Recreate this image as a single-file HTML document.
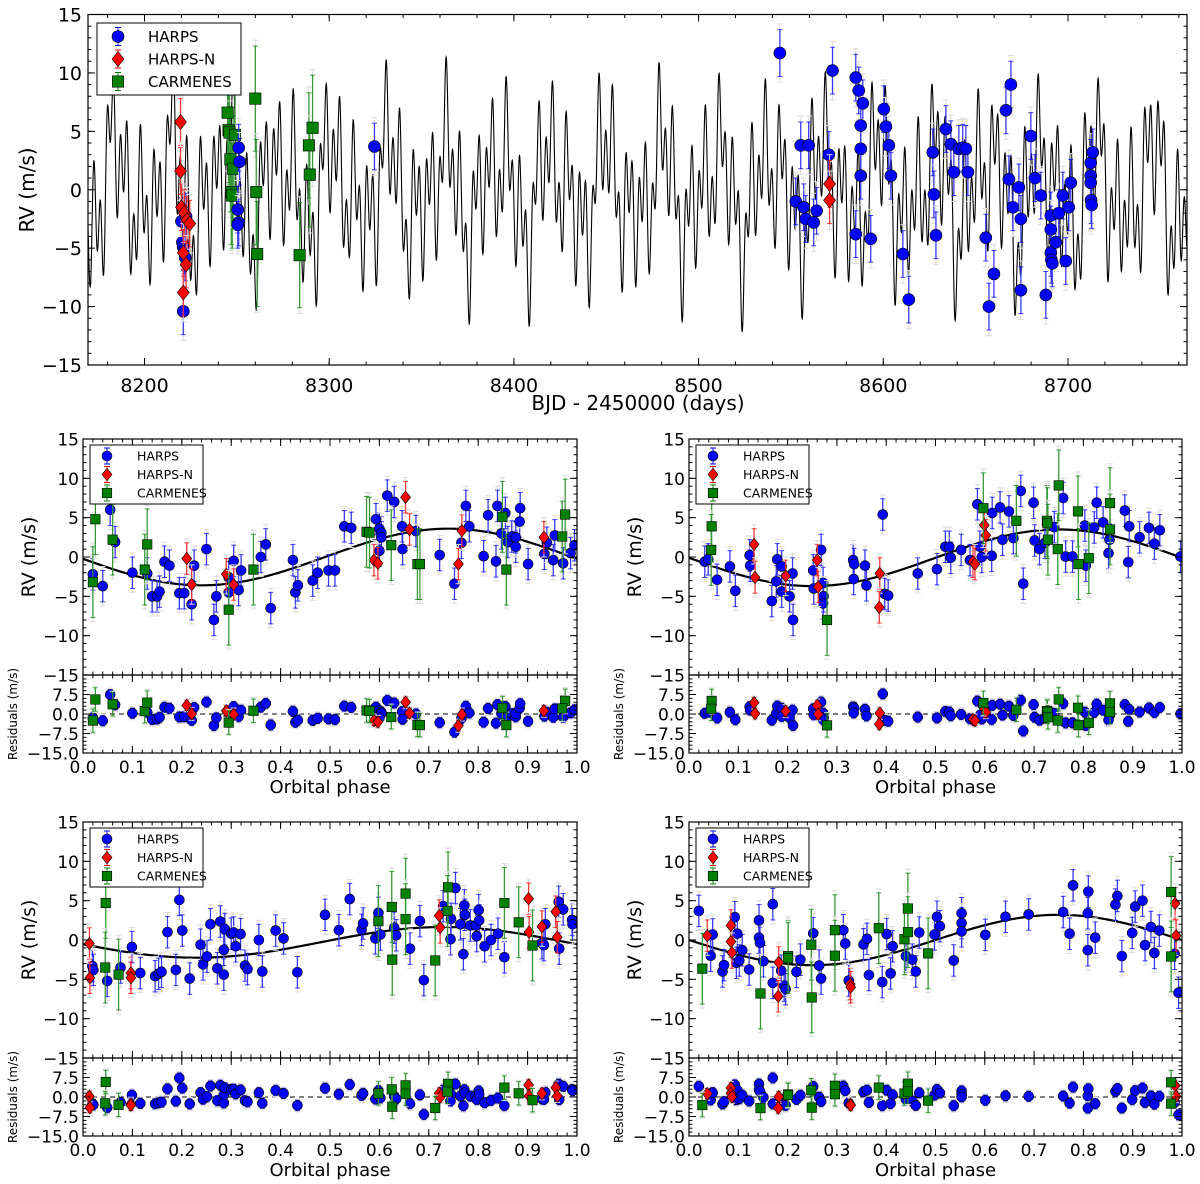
<!DOCTYPE html>
<html><head><meta charset="utf-8"><title>RV fits</title>
<style>
html,body{margin:0;padding:0;background:#fff;}
svg{display:block;font-family:"DejaVu Sans","Liberation Sans",sans-serif;}
</style></head>
<body>
<svg id="chart" width="1200" height="1184" viewBox="0 0 1200 1184" xmlns="http://www.w3.org/2000/svg"></svg>
<script>
// ---------------- DATA ----------------
const topHarpsT = [8220,8220.5,8221,8221.5,8222,8221,8222.5,8251,8251.5,8250.5,8251,8250.5,8324.5,8544,
 8552.6,8555.3,8556.9,8558,8559.6,8562.3,8563.9,8572.5,8570.5,8585.1,8586.7,8588.9,8587.8,8587.8,8587.8,8585.1,8593.2,8600.3,8601.4,8603,8604.1,8610.6,8613.8,
 8626.8,8627.4,8628.5,8633.9,8636.6,8638.2,8640.9,8643,8644.7,8645.8,8655.5,8657.2,8659.9,8666.4,8668,8669.1,8670.2,8673.4,8674.5,8674.5,8679.9,8682.1,8685.3,8688,
 8690.7,8690.7,8690.7,8691,8691.5,8693.4,8695,8697.2,8698.8,8700.4,8701.5,8712.3,8712.3,8712.3,8712.5,8712.8,8713.4];
const topHarpsRV = [-2.7,-4.5,-4.9,-5.2,-5.8,-10.4,-2.3,3.6,2.4,-1.7,-2.8,-3.0,3.7,11.7,
 -1.0,3.8,-1.5,-2.5,3.8,-2.8,-1.8,10.2,3.0,9.6,8.5,7.4,5.5,3.5,1.2,-3.8,-4.2,6.9,5.4,3.8,1.2,-5.5,-9.4,
 3.2,-0.4,-3.9,5.2,3.9,1.5,3.5,3.6,3.5,1.5,-4.1,-10.0,-7.2,6.8,0.9,9.0,-1.5,0.2,-8.6,-2.5,4.6,1.0,-0.5,-9.0,
 -2.2,-3.4,-5.4,-6.0,-6.3,-4.5,-2.0,-0.5,-6.1,-1.5,0.6,2.3,1.2,0.6,-0.9,-1.3,3.2];
const topHarpsNT = [8219.5,8219.5,8220,8221.5,8223,8224.5,8221,8222.5,8221,8570.9,8570.9];
const topHarpsNRV = [5.8,1.6,-1.5,-2.0,-2.6,-2.9,-5.4,-6.4,-8.8,0.5,-0.9];
const topCarmT = [8245,8245.5,8246,8246.5,8247,8247.5,8248,8249,8260,8260.5,8261,8284,8289,8289.5,8291];
const topCarmRV = [6.6,5.1,4.9,2.6,-0.2,-0.5,1.8,4.7,7.8,-0.2,-5.5,-5.6,3.8,1.3,5.3];
const modelPeriods = [3.6, 8.25, 16.6, 29.5];
const modelAmps = [3.6, 3.5, 2.0, 3.2];
const modelPhases = [0.1, 0.55, 0.3, 0.8];

const aHarpsPh = [0.02,0.04,0.055,0.065,0.10,0.13,0.14,0.15,0.155,0.165,0.175,0.195,0.205,0.22,0.225,0.25,0.265,0.27,0.295,0.295,0.305,0.315,0.32,0.36,0.37,0.38,0.425,0.43,0.435,0.465,0.475,0.497,0.51,0.529,0.543,0.593,0.60,0.604,0.604,0.60,0.616,0.63,0.646,0.647,0.674,0.722,0.752,0.766,0.775,0.782,0.811,0.82,0.836,0.839,0.847,0.855,0.86,0.868,0.876,0.876,0.884,0.885,0.901,0.934,0.939,0.952,0.955,0.972,0.987,0.995];
const aHarpsRV = [-2.2,-3.7,6.0,1.9,-2.0,-2.1,-5.0,-5.0,-4.4,-0.6,-1.1,-4.6,-4.6,-6.0,-1.1,1.0,-8.0,-5.0,-4.5,-2.6,-0.5,-4.2,-1.7,0.0,1.6,-6.5,-0.4,-4.5,-3.6,-3.0,-2.0,-1.7,-1.7,3.9,3.7,4.8,3.6,3.1,2.5,0.8,7.8,7.0,3.9,1.0,3.3,0.25,-3.4,1.8,6.5,3.9,0.1,5.3,-0.55,6.5,3.0,5.6,1.9,2.6,1.3,2.5,4.5,6.2,-0.9,0.4,1.8,-0.4,2.75,-0.8,0.5,1.5];
const aHarpsNPh = [0.21,0.22,0.29,0.305,0.589,0.597,0.653,0.661,0.76,0.767,0.933];
const aHarpsNRV = [-0.2,-3.5,-2.2,-3.5,-0.4,-0.8,7.6,3.5,-0.9,3.35,2.5];
const aCarmPh = [0.02,0.025,0.06,0.125,0.13,0.295,0.345,0.574,0.58,0.624,0.677,0.682,0.849,0.857,0.976,0.97];
const aCarmRV = [-3.2,4.8,2.2,-1.6,1.6,-6.7,-1.6,3.2,3.1,1.5,-0.9,-0.9,5.1,-1.6,5.4,2.6];

const bHarpsPh = [0.032,0.039,0.057,0.083,0.094,0.123,0.124,0.168,0.177,0.179,0.188,0.188,0.204,0.21,0.211,0.252,0.253,0.268,0.272,0.273,0.272,0.333,0.335,0.334,0.357,0.36,0.393,0.397,0.404,0.464,0.503,0.52,0.528,0.531,0.552,0.57,0.585,0.594,0.59,0.615,0.614,0.631,0.636,0.649,0.658,0.673,0.678,0.699,0.701,0.711,0.722,0.741,0.759,0.764,0.778,0.803,0.805,0.822,0.827,0.84,0.853,0.851,0.884,0.893,0.891,0.914,0.933,0.944,0.955,0.997];
const bHarpsRV = [-0.6,-0.3,-2.9,-1.2,-4.3,0.2,-1.1,-5.6,-3.1,-0.3,-1.2,-4.4,-5.0,-2.1,-8.0,-1.7,-4.0,0.9,-3.3,-5.0,-5.9,-0.4,-0.9,-2.8,-1.1,-3.6,5.4,-4.7,-4.9,-2.1,-1.55,1.3,1.3,-0.1,0.9,-0.4,6.7,0.0,1.3,5.6,0.15,6.3,2.2,5.8,2.4,8.4,-3.4,6.9,2.1,1.0,1.8,3.8,7.5,0.05,0.05,4.0,-1.1,3.75,6.9,4.4,2.2,0.5,5.9,3.9,-0.65,2.5,3.7,1.7,3.4,0.05];
const bHarpsNPh = [0.132,0.134,0.196,0.26,0.262,0.387,0.386,0.576,0.58,0.599,0.602];
const bHarpsNRV = [1.6,-2.6,-2.4,-0.4,-3.8,-2.1,-6.4,-0.6,-0.9,4.05,2.75];
const bCarmPh = [0.046,0.045,0.28,0.597,0.664,0.726,0.727,0.728,0.748,0.75,0.789,0.79,0.811,0.854,0.854];
const bCarmRV = [3.9,0.9,-8.0,6.2,4.6,4.6,4.3,2.2,1.0,9.1,5.8,-0.9,-0.15,6.85,3.5];

const cHarpsPh = [0.019,0.021,0.049,0.076,0.099,0.116,0.146,0.153,0.159,0.171,0.188,0.195,0.201,0.216,0.238,0.243,0.251,0.258,0.272,0.278,0.285,0.285,0.287,0.3,0.305,0.309,0.319,0.328,0.333,0.356,0.363,0.39,0.406,0.434,0.49,0.518,0.54,0.564,0.567,0.592,0.598,0.602,0.63,0.634,0.662,0.682,0.69,0.729,0.745,0.744,0.754,0.764,0.77,0.772,0.773,0.784,0.795,0.797,0.801,0.802,0.813,0.826,0.84,0.853,0.929,0.933,0.936,0.963,0.964,0.972,0.99,0.991];
const cHarpsRV = [-3.3,-3.8,-5.2,-3.5,-0.9,-4.2,-4.6,-4.3,-4.05,1.0,-3.8,5.1,1.2,-4.9,-0.6,-3.1,-2.1,2.0,-3.6,2.35,-4.4,-1.25,1.4,0.8,0.95,-0.8,0.75,-3.25,-3.7,0.0,-4.0,1.2,0.2,-4.1,3.2,1.25,5.2,1.3,2.1,0.2,3.45,0.7,1.55,0.6,-1.1,2.4,-5.1,4.3,2.7,0.1,6.6,2.0,-1.8,4.4,3.2,1.85,1.85,0.5,3.8,2.5,-0.8,0.0,0.8,-2.2,-0.4,-0.65,2.0,4.85,-1.1,3.9,2.55,2.0];
const cHarpsNPh = [0.013,0.014,0.097,0.097,0.721,0.723,0.902,0.903,0.929,0.957,0.96];
const cHarpsNRV = [-0.45,-4.8,-4.2,-4.8,3.1,1.6,5.25,1.0,1.7,3.6,0.35];
const cCarmPh = [0.046,0.045,0.072,0.598,0.625,0.626,0.653,0.653,0.713,0.739,0.738,0.853,0.882,0.91];
const cCarmRV = [4.7,-3.5,-4.4,2.4,4.2,-2.5,5.9,2.65,-2.6,6.7,3.7,4.7,2.25,-0.7];

const dHarpsPh = [0.02,0.044,0.048,0.068,0.071,0.093,0.098,0.096,0.102,0.108,0.122,0.142,0.142,0.144,0.151,0.17,0.17,0.187,0.193,0.196,0.218,0.226,0.252,0.264,0.268,0.313,0.317,0.324,0.354,0.361,0.365,0.392,0.401,0.413,0.409,0.44,0.453,0.46,0.467,0.498,0.503,0.509,0.537,0.553,0.553,0.553,0.601,0.642,0.689,0.759,0.772,0.779,0.809,0.81,0.809,0.824,0.865,0.869,0.878,0.899,0.905,0.92,0.925,0.937,0.944,0.954,0.985,0.993];
const dHarpsRV = [3.7,-2.0,0.7,-4.0,-3.2,2.9,0.8,-2.9,-2.6,-1.3,-3.75,2.5,0.3,-0.35,-2.7,4.55,-5.45,-3.9,-5.8,-6.25,-4.05,-2.5,0.85,-3.25,-4.9,1.25,-0.45,-5.15,-0.55,0.15,-4.45,-5.35,0.75,-0.8,-4.25,-2.05,-2.5,-4.0,0.95,0.7,2.95,1.75,-2.6,3.4,2.15,1.1,0.65,2.95,3.25,3.55,0.8,6.95,3.4,6.15,-1.3,0.3,4.5,5.6,-2.05,0.9,4.25,5.0,-0.65,1.65,-1.65,1.2,-1.75,-6.7];
const dHarpsNPh = [0.037,0.085,0.085,0.087,0.182,0.181,0.327,0.328,0.986,0.988];
const dHarpsNRV = [0.55,1.85,-0.2,-1.6,-2.85,-7.15,-5.6,-6.0,4.65,0.55];
const dCarmPh = [0.027,0.145,0.201,0.201,0.248,0.249,0.296,0.296,0.385,0.437,0.444,0.444,0.485,0.978,0.978];
const dCarmRV = [-3.65,-6.8,-2.05,-2.3,-0.6,-7.3,1.25,-2.0,1.5,0.1,4.0,1.0,-1.7,6.1,-2.1];

const fitA = [3.6, 0.74, 0.0];
const fitB = [3.6, 0.75, -0.1];
const fitC = [1.95, 0.73, -0.3];
const fitD = [3.2, 0.75, 0.0];

const topXTicks = [8200,8300,8400,8500,8600,8700];
const rvYTicks = [-15,-10,-5,0,5,10,15];
const resYTicks = [-15,-7.5,0,7.5];
const phaseXTicks = [0,0.1,0.2,0.3,0.4,0.5,0.6,0.7,0.8,0.9,1.0];

// ---------------- DRAWING ----------------
const svg = document.getElementById('chart');
const NS = 'http://www.w3.org/2000/svg';
function mk(tag, attrs, parent) {
  const e = document.createElementNS(NS, tag);
  for (const k in attrs) e.setAttribute(k, attrs[k]);
  (parent || svg).appendChild(e);
  return e;
}
function fmtNum(v){ return (v<0?'\u2212':'') + Math.abs(v); }
function fmtRes(v){ return (v<0?'\u2212':'') + Math.abs(v).toFixed(1); }

const COLORS = {harps:'#0000ff', harpsn:'#ff0000', carm:'#008000'};
const ERR = {harps:2.0, harpsn:2.0, carm:4.5};

function drawMarker(g, kind, cx, cy, r) {
  let m;
  if (kind === 'harps') {
    m = mk('circle', {cx:cx, cy:cy, r:r, fill:COLORS.harps, stroke:'#000', 'stroke-width':0.6}, g);
  } else if (kind === 'harpsn') {
    const d = r*1.25;
    m = mk('polygon', {points:`${cx},${cy-d} ${cx+d*0.8},${cy} ${cx},${cy+d} ${cx-d*0.8},${cy}`, fill:COLORS.harpsn, stroke:'#000', 'stroke-width':0.6}, g);
  } else {
    const s = r*0.95;
    m = mk('rect', {x:cx-s, y:cy-s, width:2*s, height:2*s, fill:COLORS.carm, stroke:'#000', 'stroke-width':0.6}, g);
  }
  return m;
}
function drawErr(g, kind, x, y0, y1, yg0, yg1) {
  mk('line', {x1:x, x2:x, y1:yg0, y2:yg1, stroke:'#dcdcdc', 'stroke-width':1}, g);
  mk('line', {x1:x-3, x2:x+3, y1:yg0, y2:yg0, stroke:'#dcdcdc', 'stroke-width':1}, g);
  mk('line', {x1:x-3, x2:x+3, y1:yg1, y2:yg1, stroke:'#dcdcdc', 'stroke-width':1}, g);
  mk('line', {x1:x, x2:x, y1:y0, y2:y1, stroke:COLORS[kind], 'stroke-width':1.3, 'stroke-opacity':0.75}, g);
  mk('line', {x1:x-2.5, x2:x+2.5, y1:y0, y2:y0, stroke:COLORS[kind], 'stroke-width':1, 'stroke-opacity':0.75}, g);
  mk('line', {x1:x-2.5, x2:x+2.5, y1:y1, y2:y1, stroke:COLORS[kind], 'stroke-width':1, 'stroke-opacity':0.75}, g);
}
function drawSeries(parent, kind, xsArr, ysArr, xf, yf, r, clipId, name) {
  const g = mk('g', {'clip-path':`url(#${clipId})`}, parent);
  
  
  const e = ERR[kind];
  for (let i=0;i<xsArr.length;i++){
    const x = xf(xsArr[i]), v = ysArr[i];
    drawErr(g, kind, x, yf(v+e), yf(v-e), yf(v+e+0.5), yf(v-e-0.5));
  }
  for (let i=0;i<xsArr.length;i++){
    const m = drawMarker(g, kind, xf(xsArr[i]), yf(ysArr[i]), r);
    
    
  }
}
function ticksBox(parent, L, R, T, B, xMaj, xMin, xf, yMaj, yMin, yf) {
  const g = mk('g', {stroke:'#000', 'stroke-width':1}, parent);
  
  
  xMaj.forEach(v=>{ const x=xf(v); mk('line',{x1:x,x2:x,y1:B,y2:B-7},g); mk('line',{x1:x,x2:x,y1:T,y2:T+7},g); });
  xMin.forEach(v=>{ const x=xf(v); mk('line',{x1:x,x2:x,y1:B,y2:B-3.5},g); mk('line',{x1:x,x2:x,y1:T,y2:T+3.5},g); });
  yMaj.forEach(v=>{ const y=yf(v); mk('line',{x1:L,x2:L+7,y1:y,y2:y},g); mk('line',{x1:R,x2:R-7,y1:y,y2:y},g); });
  yMin.forEach(v=>{ const y=yf(v); mk('line',{x1:L,x2:L+3.5,y1:y,y2:y},g); mk('line',{x1:R,x2:R-3.5,y1:y,y2:y},g); });
}
function rng(a,b,s){ const o=[]; for(let v=a; v<=b+1e-9; v+=s) o.push(Math.round(v*1000)/1000); return o; }

function drawLegend(parent, x, y, w, h, rowH, fs, r, mx, tx) {
  const g = mk('g', {}, parent);
  
  
  const box = mk('rect', {x:x, y:y, width:w, height:h, fill:'#fff', stroke:'#000', 'stroke-width':1}, g);
  
  
  const items = [['harps','HARPS'],['harpsn','HARPS-N'],['carm','CARMENES']];
  items.forEach((it,i)=>{
    const cy = y + rowH*(i+0.5) + (h-3*rowH)/2;
    const eg = mk('g', {}, g);
    
    
    mk('line',{x1:x+mx,x2:x+mx,y1:cy-r-3,y2:cy+r+3,stroke:COLORS[it[0]],'stroke-width':1.2,'stroke-opacity':0.75},eg);
    mk('line',{x1:x+mx-3,x2:x+mx+3,y1:cy-r-3,y2:cy-r-3,stroke:COLORS[it[0]],'stroke-width':1},eg);
    mk('line',{x1:x+mx-3,x2:x+mx+3,y1:cy+r+3,y2:cy+r+3,stroke:COLORS[it[0]],'stroke-width':1},eg);
    drawMarker(eg, it[0], x+mx, cy, r);
    const t = mk('text',{x:x+tx, y:cy+fs*0.36, 'font-size':fs, fill:'#000'},eg);
    t.textContent = it[1];
  });
}

const defs = mk('defs', {});

// ---- TOP PANEL ----
(function(){
  const L=88, R=1187, T=14.5, B=365;
  const xf = t => 144.5 + (t-8200)*1.847;
  const yf = v => 189.75 - v*11.683;
  const cp = mk('clipPath',{id:'clipTop'},defs); mk('rect',{x:L,y:T,width:R-L,height:B-T},cp);
  const g = mk('g',{});
  
  
  const t0 = 8169.4, t1 = 8764.4;
  let d = '';
  for (let t=t0; t<=t1; t+=0.1) {
    let v = 0;
    for (let k=0;k<modelPeriods.length;k++) v += modelAmps[k]*Math.sin(2*Math.PI*(t/modelPeriods[k] + modelPhases[k]));
    d += (d?'L':'M') + xf(t).toFixed(2) + ',' + yf(v).toFixed(2);
  }
  const cg = mk('g',{'clip-path':'url(#clipTop)'},g);
  const curve = mk('path',{d:d, fill:'none', stroke:'#000', 'stroke-width':1.1},cg);
  
  
  drawSeries(g,'carm',topCarmT,topCarmRV,xf,yf,6,'clipTop','carmenes-series');
  drawSeries(g,'harps',topHarpsT,topHarpsRV,xf,yf,6,'clipTop','harps-series');
  drawSeries(g,'harpsn',topHarpsNT,topHarpsNRV,xf,yf,6,'clipTop','harps-n-series');
  const frame = mk('rect',{x:L,y:T,width:R-L,height:B-T,fill:'none',stroke:'#000','stroke-width':1.2},g);
  
  
  ticksBox(g,L,R,T,B,topXTicks,rng(8180,8760,20),xf,rvYTicks,rng(-15,15,1),yf);
  topXTicks.forEach(v=>{
    const t = mk('text',{x:xf(v),y:392,'font-size':19,'text-anchor':'middle'},g);
    
    
    t.textContent = v;
  });
  rvYTicks.forEach(v=>{
    const t = mk('text',{x:82,y:yf(v)+7,'font-size':19,'text-anchor':'end'},g);
    
    
    t.textContent = fmtNum(v);
  });
  const yl = mk('text',{x:0,y:0,'font-size':20,'text-anchor':'middle',transform:'translate(34,190) rotate(-90)'},g);
  
  
  yl.textContent = 'RV (m/s)';
  const xl = mk('text',{x:638,y:410,'font-size':20,'text-anchor':'middle'},g);
  
  
  xl.textContent = 'BJD - 2450000 (days)';
  drawLegend(g,97,23,144,72,22.5,15,6,21,51);
})();

// ---- PHASE PANELS ----
function phasePanel(id, L, R, T, B, RB, fit, hp, hv, np, nv, cp_, cv) {
  const xf = p => L + p*(R-L);
  const yf = v => (T+B)/2 - v*(B-T)/30;
  const rmid = (B+RB)/2, rs = (RB-B)/30;
  const yr = v => rmid - v*rs;
  const model = p => fit[2] + fit[0]*Math.cos(2*Math.PI*(p - fit[1]));
  const c1 = mk('clipPath',{id:'clip'+id},defs); mk('rect',{x:L,y:T,width:R-L,height:B-T},c1);
  const c2 = mk('clipPath',{id:'clipR'+id},defs); mk('rect',{x:L,y:B,width:R-L,height:RB-B},c2);
  const g = mk('g',{});
  
  
  let d='';
  for (let i=0;i<=400;i++){ const p=i/400; d += (d?'L':'M') + xf(p).toFixed(2)+','+yf(model(p)).toFixed(2); }
  const curve = mk('path',{d:d,fill:'none',stroke:'#000','stroke-width':2.2},g);
  
  
  drawSeries(g,'harps',hp,hv,xf,yf,5,'clip'+id,'harps-series');
  drawSeries(g,'harpsn',np,nv,xf,yf,5,'clip'+id,'harps-n-series');
  drawSeries(g,'carm',cp_,cv,xf,yf,5,'clip'+id,'carmenes-series');
  const zl = mk('line',{x1:L,x2:R,y1:yr(0),y2:yr(0),stroke:'#000','stroke-width':1,'stroke-dasharray':'5,4'},g);
  
  
  const res = (ph, rv) => rv.map((v,i)=>v - model(ph[i]));
  drawSeries(g,'harps',hp,res(hp,hv),xf,yr,5,'clipR'+id,'harps-residuals');
  drawSeries(g,'harpsn',np,res(np,nv),xf,yr,5,'clipR'+id,'harps-n-residuals');
  drawSeries(g,'carm',cp_,res(cp_,cv),xf,yr,5,'clipR'+id,'carmenes-residuals');
  const f1 = mk('rect',{x:L,y:T,width:R-L,height:B-T,fill:'none',stroke:'#000','stroke-width':1.2},g);
  
  
  const f2 = mk('rect',{x:L,y:B,width:R-L,height:RB-B,fill:'none',stroke:'#000','stroke-width':1.2},g);
  
  
  const xMin = rng(0,1,0.02);
  ticksBox(g,L,R,T,B,phaseXTicks,xMin,xf,rvYTicks,rng(-15,15,1),yf);
  ticksBox(g,L,R,B,RB,phaseXTicks,xMin,xf,resYTicks,rng(-15,15,1.5),yr);
  rvYTicks.forEach(v=>{
    const t = mk('text',{x:L-4,y:yf(v)+6.5,'font-size':17,'text-anchor':'end'},g);
    
    
    t.textContent = fmtNum(v);
  });
  resYTicks.forEach(v=>{
    const t = mk('text',{x:L-4,y:yr(v)+6.5,'font-size':17,'text-anchor':'end'},g);
    
    
    t.textContent = fmtRes(v);
  });
  phaseXTicks.forEach(v=>{
    const t = mk('text',{x:xf(v),y:RB+20,'font-size':17,'text-anchor':'middle'},g);
    
    
    t.textContent = v.toFixed(1);
  });
  const xl = mk('text',{x:(L+R)/2,y:RB+40,'font-size':18,'text-anchor':'middle'},g);
  
  
  xl.textContent = 'Orbital phase';
  const yl = mk('text',{x:0,y:0,'font-size':19,'text-anchor':'middle',transform:`translate(${L-48},${(T+B)/2}) rotate(-90)`},g);
  
  
  yl.textContent = 'RV (m/s)';
  const rl = mk('text',{x:0,y:0,'font-size':12,'text-anchor':'middle',transform:`translate(${L-66},${(B+RB)/2}) rotate(-90)`},g);
  
  
  rl.textContent = 'Residuals (m/s)';
  drawLegend(g,L+7,T+6,113,59,18.5,12.5,5,17,47);
}
phasePanel('a',83,577,439,675,753,fitA,aHarpsPh,aHarpsRV,aHarpsNPh,aHarpsNRV,aCarmPh,aCarmRV);
phasePanel('b',689,1182,439,675,753,fitB,bHarpsPh,bHarpsRV,bHarpsNPh,bHarpsNRV,bCarmPh,bCarmRV);
phasePanel('c',83,577,822,1058,1136,fitC,cHarpsPh,cHarpsRV,cHarpsNPh,cHarpsNRV,cCarmPh,cCarmRV);
phasePanel('d',689,1182,822,1058,1136,fitD,dHarpsPh,dHarpsRV,dHarpsNPh,dHarpsNRV,dCarmPh,dCarmRV);
</script>
</body></html>
